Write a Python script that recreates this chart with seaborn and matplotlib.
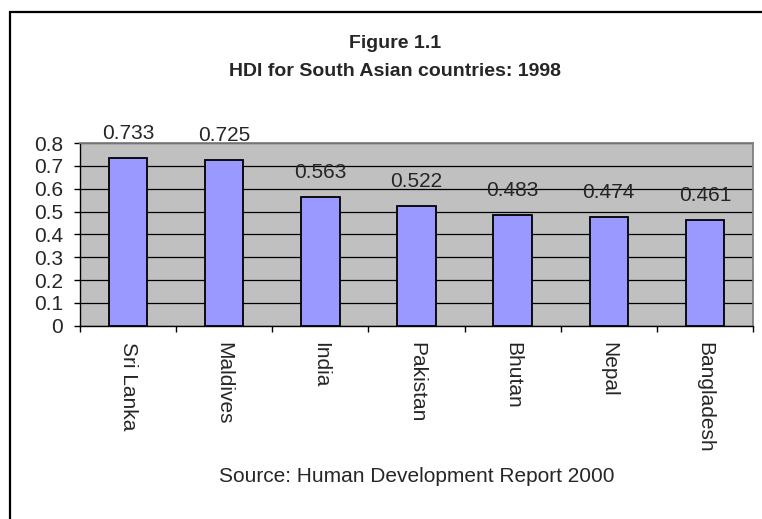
import matplotlib
matplotlib.use("Agg")
import matplotlib.pyplot as plt
import seaborn as sns
import pandas as pd
from matplotlib.patches import Rectangle
from matplotlib.ticker import FixedLocator

countries = ["Sri Lanka", "Maldives", "India", "Pakistan", "Bhutan", "Nepal", "Bangladesh"]
hdi = [0.733, 0.725, 0.563, 0.522, 0.483, 0.474, 0.461]
yticks = [0, 0.1, 0.2, 0.3, 0.4, 0.5, 0.6, 0.7, 0.8]
title1 = "Figure 1.1"
title2 = "HDI for South Asian countries: 1998"
source = "Source: Human Development Report 2000"

sns.set_style("white")
plt.rcParams['font.family'] = ['Liberation Sans', 'DejaVu Sans']

df = pd.DataFrame({"country": countries, "hdi": hdi})

fig = plt.figure(figsize=(7.62, 5.19), dpi=100)
W, H = 762, 519
L, R, T, B = 80, 753, 143, 325.7
ax = fig.add_axes([L / W, 1 - B / H, (R - L) / W, (B - T) / H])

sns.barplot(data=df, x="country", y="hdi", ax=ax, color="#9999FF",
            saturation=1, width=0.4, edgecolor="black", linewidth=1.3, zorder=3)

ax.set_facecolor("#C0C0C0")
ax.set_ylim(0, 0.8)
ax.set_xlim(-0.5, len(countries) - 0.5)
ax.set_yticks(yticks)
ax.set_yticklabels([f"{v:g}" for v in yticks], fontsize=15)
ax.yaxis.grid(True, color="black", linewidth=0.9, zorder=0)
ax.set_axisbelow(True)
ax.tick_params(axis="y", length=4, width=1, color="black", pad=8, left=True)
ax.set_xticks(range(len(countries)))
ax.set_xticklabels(countries, rotation=270, fontsize=15, va="top", ha="center")
ax.tick_params(axis="x", which="major", length=0, pad=12)
ax.xaxis.set_minor_locator(FixedLocator([i - 0.5 for i in range(len(countries) + 1)]))
ax.tick_params(axis="x", which="minor", length=4.5, width=1, color="black", bottom=True)
ax.set_xlabel("")
ax.set_ylabel("")

for s in ["top", "right"]:
    ax.spines[s].set_color("#808080")
    ax.spines[s].set_linewidth(1.3)
for s in ["left", "bottom"]:
    ax.spines[s].set_color("black")
    ax.spines[s].set_linewidth(1)

for i, v in enumerate(hdi):
    ax.annotate(f"{v:.3f}", (i, v), xytext=(0, 14), textcoords="offset points",
                ha="center", va="baseline", fontsize=15, annotation_clip=False)

fig.text(395 / W, 1 - 43 / H, title1, ha="center", va="center",
         fontsize=14, fontweight="bold")
fig.text(395 / W, 1 - 71 / H, title2, ha="center", va="center",
         fontsize=14, fontweight="bold")
fig.text(0.5 * (L + R) / W, 1 - 477 / H, source, ha="center", va="center",
         fontsize=15)

fig.patches.append(Rectangle((10 / W, -0.2), 1.2, 1.2 - 12 / H,
                             transform=fig.transFigure, fill=False,
                             edgecolor="black", linewidth=1.6))

fig.savefig("out.png", dpi=100)
